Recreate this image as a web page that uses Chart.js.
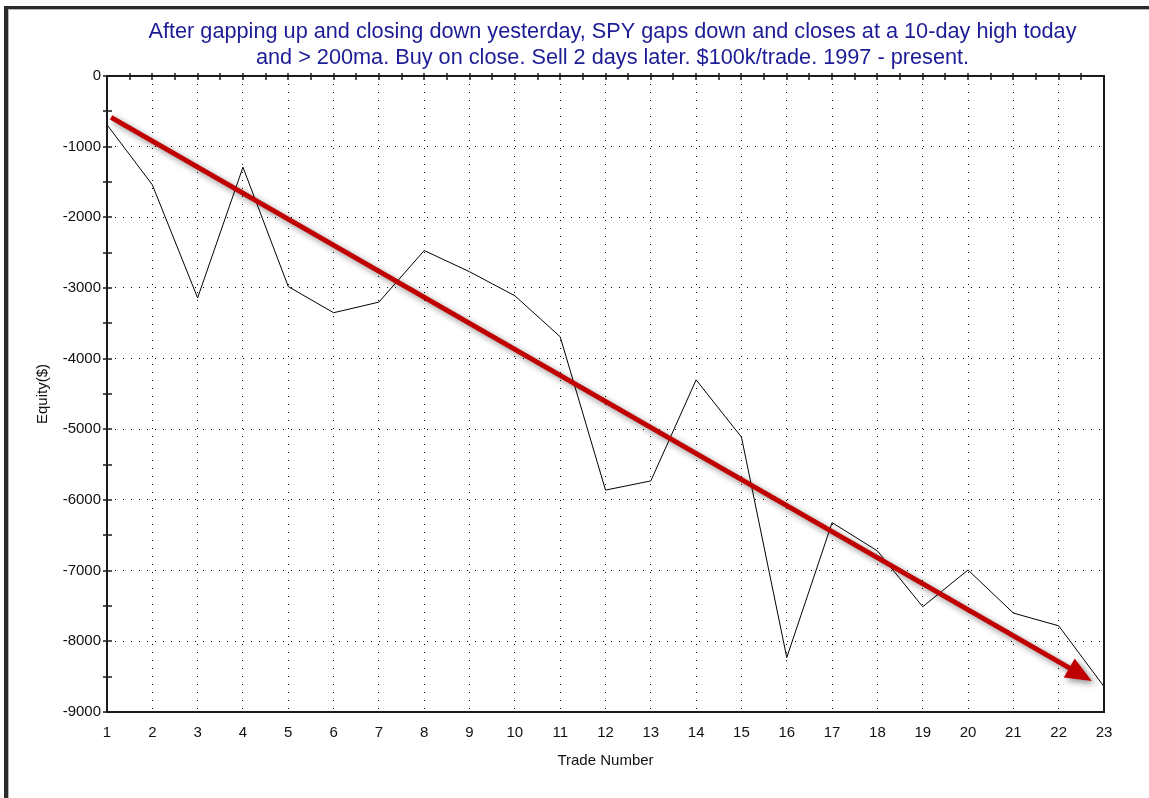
<!DOCTYPE html>
<html>
<head>
<meta charset="utf-8">
<script src="https://cdn.jsdelivr.net/npm/chart.js@4"></script>
<style>
  body { margin: 0; background: #fff; }
  .wrap { position: relative; width: 1149px; height: 798px; overflow: hidden; }
  .frame {
    position: absolute; left: 4px; top: 6px; right: -10px; bottom: -10px;
    border-left: 4px solid #2b2b2b; border-top: 3px solid #2b2b2b;
    box-shadow: inset 1px 1px 0 #b5b5b5; pointer-events: none;
  }
</style>
</head>
<body>
<div class="wrap">
  <canvas id="myChart"></canvas>
  <div class="frame"></div>
</div>
<script>
const trades = [1, 2, 3, 4, 5, 6, 7, 8, 9, 10, 11, 12, 13, 14, 15, 16, 17, 18, 19, 20, 21, 22, 23];
const equity = [-690, -1540, -3140, -1290, -2980, -3350, -3200, -2470, -2770, -3110, -3690, -5860,
  -5730, -4300, -5110, -8230, -6320, -6720, -7510, -6990, -7600, -7780, -8640];
const yTicks = [0, -1000, -2000, -3000, -4000, -5000, -6000, -7000, -8000, -9000];
// red trend arrow, in trade / equity units
const trendFrom = [1.09, -585];
const trendTo = [22.73, -8560];

const titleLines = [
  "After gapping up and closing down yesterday, SPY gaps down and closes at a 10-day high today",
  "and > 200ma. Buy on close. Sell 2 days later. $100k/trade. 1997 - present.",
];

const font = "'Liberation Sans', Arial, sans-serif";

// axis frame, crossing tick marks and the arrow
const framePlugin = {
  id: "frame",
  afterLayout(chart) {
    // title sits a little right of the plot centre in the original
    if (chart.titleBlock) {
      chart.titleBlock.left += 7;
      chart.titleBlock.right += 7;
    }
  },
  afterDatasetsDraw(chart) {
    const { ctx, chartArea: a, scales } = chart;
    const x = scales.x;
    const y = scales.y;

    // arrow
    const x1 = x.getPixelForValue(trendFrom[0]);
    const y1 = y.getPixelForValue(trendFrom[1]);
    const x2 = x.getPixelForValue(trendTo[0]);
    const y2 = y.getPixelForValue(trendTo[1]);
    const ang = Math.atan2(y2 - y1, x2 - x1);
    const headLen = 26;
    const headW = 11;
    const bx = x2 - headLen * Math.cos(ang);
    const by = y2 - headLen * Math.sin(ang);

    ctx.save();
    ctx.shadowColor = "rgba(0,0,0,0.45)";
    ctx.shadowBlur = 6;
    ctx.shadowOffsetX = 3;
    ctx.shadowOffsetY = 3;
    ctx.strokeStyle = "#c00000";
    ctx.fillStyle = "#c00000";
    ctx.lineWidth = 5;
    ctx.beginPath();
    ctx.moveTo(x1, y1);
    ctx.lineTo(bx + 2 * Math.cos(ang), by + 2 * Math.sin(ang));
    ctx.stroke();
    ctx.beginPath();
    ctx.moveTo(x2, y2);
    ctx.lineTo(bx - headW * Math.sin(ang), by + headW * Math.cos(ang));
    ctx.lineTo(bx + headW * Math.sin(ang), by - headW * Math.cos(ang));
    ctx.closePath();
    ctx.fill();
    ctx.restore();

    // frame
    ctx.save();
    ctx.strokeStyle = "#1a1a1a";
    ctx.lineWidth = 2;
    ctx.strokeRect(a.left, a.top, a.right - a.left, a.bottom - a.top);

    ctx.lineWidth = 1.5;
    ctx.beginPath();
    for (let v = yTicks[0]; v >= yTicks[yTicks.length - 1]; v -= 500) {
      const py = Math.round(y.getPixelForValue(v));
      ctx.moveTo(a.left - 4, py);
      ctx.lineTo(a.left + 5, py);
    }
    for (let t = trades[0] + 0.5; t < trades[trades.length - 1]; t += 0.5) {
      const px = Math.round(x.getPixelForValue(t));
      ctx.moveTo(px, a.top - 3);
      ctx.lineTo(px, a.top + 4);
    }
    ctx.stroke();
    ctx.restore();
  },
};

const ctx = document.getElementById("myChart");

const grafico = new Chart(ctx, {
  type: "line",
  data: {
    datasets: [
      {
        label: "Equity",
        data: trades.map((t, i) => ({ x: t, y: equity[i] })),
        borderColor: "#000",
        borderWidth: 1,
        pointRadius: 0,
        tension: 0,
      },
    ],
  },
  options: {
    responsive: true,
    maintainAspectRatio: false,
    animation: false,
    layout: { padding: { left: 0, right: 45, top: 10, bottom: 0 } },
    scales: {
      x: {
        type: "linear",
        min: trades[0],
        max: trades[trades.length - 1],
        afterFit: (scale) => { scale.height = 86; },
        ticks: {
          stepSize: 1,
          padding: 12,
          color: "#111",
          font: { family: font, size: 15 },
        },
        grid: { color: "#000", lineWidth: 1, drawTicks: false },
        border: { display: false, dash: [1, 7] },
        title: {
          display: true,
          text: "Trade Number",
          color: "#111",
          font: { family: font, size: 15 },
          padding: { top: 0, bottom: 28 },
        },
      },
      y: {
        min: yTicks[yTicks.length - 1],
        max: yTicks[0],
        afterFit: (scale) => { scale.width = 107; },
        afterBuildTicks: (scale) => { scale.ticks = yTicks.map((v) => ({ value: v })); },
        ticks: {
          padding: 6,
          color: "#111",
          font: { family: font, size: 15 },
          callback: (v) => String(v),
        },
        grid: { color: "#000", lineWidth: 1, drawTicks: false },
        border: { display: false, dash: [1, 7] },
        title: {
          display: true,
          text: "Equity($)",
          color: "#111",
          font: { family: font, size: 15 },
          padding: { top: 34, bottom: 0 },
        },
      },
    },
    plugins: {
      legend: { display: false },
      tooltip: { enabled: false },
      title: {
        display: true,
        text: titleLines,
        fullSize: false,
        color: "#1c1c96",
        font: { family: font, size: 21.7, weight: "normal", lineHeight: 1.2 },
        padding: { top: 9, bottom: 4.9 },
      },
    },
  },
  plugins: [framePlugin],
});
</script>
</body>
</html>
